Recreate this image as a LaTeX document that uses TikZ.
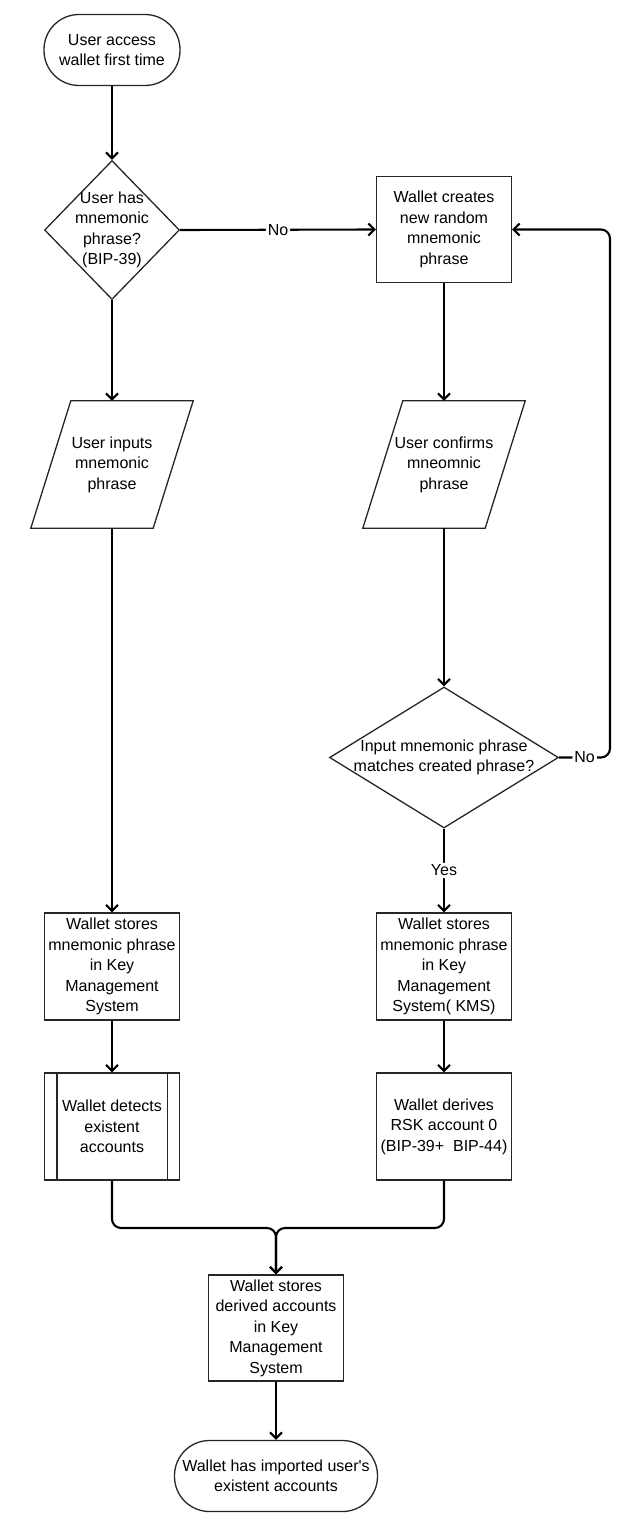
\documentclass[tikz,border=0pt]{standalone}
\usepackage{fontspec}
\setmainfont{Liberation Sans}
\usetikzlibrary{shapes.geometric,arrows.meta}
\begin{document}
\begin{tikzpicture}[x=1pt,y=-1pt,
  every node/.style={font=\fontsize{16}{20.5}\selectfont, align=center, inner sep=0pt},
  shp/.style={draw=black!85, line width=1.3pt},
  box/.style={shp, minimum width=135pt, minimum height=107pt},
  term/.style={shp, rounded corners=35pt, minimum height=71pt},
  dia/.style={shp, diamond},
  para/.style={minimum width=162pt, minimum height=127pt},
  arr/.style={line width=2.1pt, -{Straight Barb[length=6pt,width=12pt]}, rounded corners=9pt},
  lab/.style={fill=white, inner sep=2pt}
]
\useasboundingbox[fill=white] (0,0) rectangle (636,1528);

% nodes
\node[term, minimum width=136pt] (start) at (112,50) {User access\\wallet first time};
\node[dia, minimum width=135pt, minimum height=139pt] (d1) at (112,230) {};
\node (d1t) at (112,230) {User has\\mnemonic\\phrase?\\(BIP-39)};
\node[box, minimum height=106pt] (create) at (444,229.5) {Wallet creates\\new random\\mnemonic\\phrase};

\node[para] (p1) at (112,464.5) {User inputs\\mnemonic\\phrase};
\draw[shp] ([xshift=40pt]p1.north west) -- (p1.north east) -- ([xshift=-40pt]p1.south east) -- (p1.south west) -- cycle;
\node[para] (p2) at (444,464.5) {User confirms\\mneomnic\\phrase};
\draw[shp] ([xshift=40pt]p2.north west) -- (p2.north east) -- ([xshift=-40pt]p2.south east) -- (p2.south west) -- cycle;

\node[dia, minimum width=229pt, minimum height=141pt] (d2) at (444,757.5) {};
\node (d2t) at (444,757.5) {Input mnemonic phrase\\matches created phrase?};

\node[box] (store1) at (112,966.5) {Wallet stores\\mnemonic phrase\\in Key\\Management\\System};
\node[box] (store2) at (444,966.5) {Wallet stores\\mnemonic phrase\\in Key\\Management\\System( KMS)};

\node[box] (detect) at (112,1126.5) {Wallet detects\\existent\\accounts};
\draw[shp] ([xshift=13pt]detect.north west) -- ([xshift=13pt]detect.south west);
\draw[shp] ([xshift=-13pt]detect.north east) -- ([xshift=-13pt]detect.south east);
\node[box] (derive) at (444,1126.5) {Wallet derives\\RSK account 0\\(BIP-39+\ \ BIP-44)};

\node[box, minimum height=106pt] (fin) at (276,1328) {Wallet stores\\derived accounts\\in Key\\Management\\System};
\node[term, minimum width=203pt] (end) at (276,1476) {Wallet has imported user\textquotesingle s\\existent accounts};

\coordinate (loopx) at (610,0);
\coordinate (mj) at (276,1228);

% connectors
\draw[arr] (start) -- (d1);
\draw[arr] (d1.east) -- node[lab]{No} (create.west);
\draw[arr] (d1.south) -- (p1.north);
\draw[arr] (create.south) -- (p2.north);
\draw[arr] (p1.south) -- (store1.north);
\draw[arr] (p2.south) -- (d2.north);
\draw[arr] (d2.south) -- node[lab]{Yes} (store2.north);
\draw[arr] (d2.east) -- node[lab]{No} (d2.east -| loopx) -- (create.east -| loopx) -- (create.east);
\draw[arr] (store1) -- (detect);
\draw[arr] (store2) -- (derive);
\draw[arr] (detect.south) |- (mj) -- (fin.north);
\draw[arr] (derive.south) |- (mj) -- (fin.north);
\draw[arr] (fin) -- (end);
\end{tikzpicture}
\end{document}
